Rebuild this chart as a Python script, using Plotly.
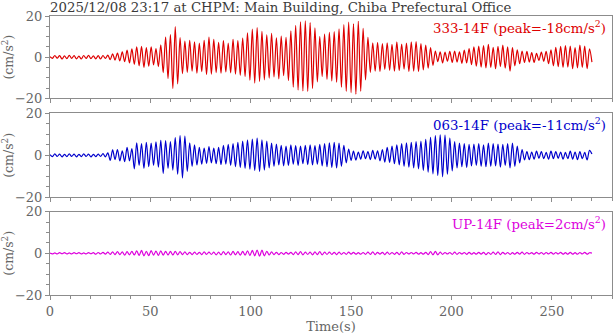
import numpy as np
import plotly.graph_objects as go
from plotly.subplots import make_subplots

# Acceleration records, sampled at the wave extrema every 1.2 s (cm/s^2)
dt = 1.2

ns_333 = [
    0.2, -0.6, 0.8, -0.5, 0.7, -0.9, 0.6, -0.7, 0.9, -0.6,
    0.7, -0.8, 0.5, -0.9, 0.8, -0.6, 0.9, -0.7, 0.6, -0.8,
    0.7, -0.9, 0.8, -0.6, 1.0, -1.2, 1.6, -1.4, 2.0, -1.8,
    2.6, -2.2, 3.4, -2.8, 4.0, -3.5, 5.0, -4.2, 5.2, -5.0,
    4.6, -4.4, 5.0, -3.8, 4.2, -4.6, 6.0, -7.5, 9.8, -10.4,
    11.0, -15.2, 14.8, -13.0, 9.5, -8.0, 7.8, -7.4, 8.2, -6.8,
    7.4, -7.8, 6.8, -7.0, 8.2, -8.4, 9.8, -8.2, 8.6, -7.5,
    7.2, -7.8, 8.0, -7.2, 6.8, -7.6, 8.6, -8.2, 8.0, -8.8,
    9.2, -9.4, 11.8, -11.2, 13.6, -12.6, 14.4, -11.8, 12.6, -11.0,
    10.8, -10.2, 11.6, -9.6, 9.4, -10.6, 10.2, -9.0, 9.6, -11.4,
    12.8, -14.6, 15.4, -16.0, 17.2, -16.4, 17.6, -16.6, 16.8, -15.2,
    14.2, -12.0, 10.0, -9.4, 11.2, -10.8, 12.0, -11.6, 12.4, -12.2,
    13.8, -14.6, 15.8, -16.6, 17.0, -17.2, 16.2, -18.0, 17.4, -16.6,
    14.0, -11.0, 9.6, -7.4, 7.0, -6.8, 7.2, -7.0, 6.6, -6.0,
    7.0, -6.4, 6.2, -6.8, 7.4, -6.6, 6.4, -5.8, 6.8, -7.0,
    7.4, -6.8, 7.6, -7.0, 6.6, -6.2, 5.8, -5.4, 4.6, -4.0,
    3.0, -2.2, 2.6, -2.8, 2.4, -2.0, 2.8, -2.6, 3.0, -2.4,
    2.6, -3.0, 3.4, -2.8, 4.2, -3.6, 5.0, -4.4, 5.4, -4.8,
    5.6, -5.2, 6.2, -5.0, 4.8, -5.6, 5.2, -4.6, 5.8, -5.4,
    5.0, -6.8, 4.6, -4.2, 3.6, -3.2, 3.0, -2.6, 2.8, -2.4,
    2.2, -2.6, 1.8, -1.6, 2.4, -2.0, 2.8, -3.2, 3.6, -4.2,
    4.8, -4.6, 5.2, -5.0, 5.6, -4.8, 5.4, -5.6, 4.6, -5.2,
    5.8, -5.0, 5.4, -5.6, 4.0, -2.4,
]

ew_063 = [
    0.3, -0.6, 0.7, -0.5, 0.6, -0.7, 0.5, -0.6, 0.7, -0.5,
    0.6, -0.7, 0.5, -0.6, 0.7, -0.5, 0.6, -0.7, 0.5, -0.6,
    0.6, -0.5, 0.8, -0.7, 1.2, -2.4, 2.6, -2.0, 2.8, -2.6,
    2.2, -3.0, 3.8, -2.6, 3.2, -6.4, 6.0, -4.8, 5.6, -6.2,
    6.2, -5.4, 5.8, -4.8, 6.4, -5.6, 7.2, -8.6, 7.0, -6.2,
    6.6, -7.0, 8.4, -9.0, 9.4, -10.8, 9.2, -7.6, 6.0, -5.2,
    5.0, -4.6, 3.8, -4.2, 3.4, -3.8, 4.2, -3.6, 3.4, -4.0,
    3.8, -4.4, 4.8, -4.2, 5.2, -4.8, 5.6, -5.4, 6.2, -5.8,
    6.8, -6.2, 7.4, -6.6, 7.8, -7.2, 8.2, -7.6, 7.4, -7.0,
    6.8, -6.0, 5.8, -5.2, 5.4, -4.6, 4.8, -5.0, 4.4, -4.8,
    5.0, -4.2, 4.6, -4.8, 4.4, -4.0, 4.8, -4.4, 5.0, -4.6,
    4.6, -4.2, 5.2, -5.0, 5.6, -5.4, 6.0, -5.8, 6.2, -6.0,
    5.8, -5.2, 4.8, -3.6, 3.0, -2.4, 2.0, -2.2, 1.6, -1.8,
    2.2, -1.6, 1.8, -2.0, 2.4, -1.8, 2.2, -2.6, 2.8, -3.2,
    3.8, -3.4, 4.4, -4.0, 5.0, -4.6, 5.6, -5.2, 6.0, -5.6,
    6.2, -6.0, 6.6, -6.4, 6.8, -7.2, 7.6, -8.0, 8.6, -8.8,
    9.4, -9.6, 9.8, -10.2, 9.6, -9.0, 8.2, -7.4, 6.6, -6.0,
    5.8, -5.4, 5.6, -5.8, 5.2, -5.0, 5.4, -4.8, 5.6, -5.2,
    5.0, -5.4, 5.8, -5.2, 5.6, -5.0, 5.4, -5.6, 5.2, -4.8,
    5.6, -6.0, 5.8, -5.2, 4.4, -3.6, 2.8, -2.2, 1.8, -2.0,
    1.6, -1.8, 2.0, -1.4, 1.8, -1.6, 1.4, -1.8, 2.0, -1.6,
    1.8, -1.4, 1.6, -1.8, 1.4, -1.6, 2.0, -1.8, 1.6, -2.0,
    1.8, -1.6, 1.4, -2.2, 2.4, 0.6,
]

ud_up = [
    0.1, -0.3, 0.2, -0.3, 0.3, -0.2, 0.3, -0.3, 0.2, -0.3,
    0.3, -0.2, 0.3, -0.3, 0.2, -0.3, 0.3, -0.2, 0.3, -0.4,
    0.4, -0.3, 0.5, -0.4, 0.6, -0.5, 0.7, -0.6, 0.8, -0.6,
    0.7, -0.9, 0.8, -0.7, 1.0, -0.8, 1.2, -1.0, 1.4, -1.2,
    1.0, -1.1, 1.3, -0.9, 1.1, -1.0, 1.2, -0.9, 1.0, -0.8,
    0.9, -0.8, 1.0, -0.7, 0.8, -0.6, 0.7, -0.6, 0.5, -0.6,
    0.6, -0.5, 0.5, -0.6, 0.7, -0.5, 0.6, -0.5, 0.6, -0.7,
    0.6, -0.7, 0.8, -0.6, 0.7, -0.8, 0.9, -0.7, 0.8, -0.9,
    1.0, -0.9, 1.2, -1.0, 1.4, -1.2, 1.6, -1.4, 1.5, -1.2,
    1.0, -0.8, 0.7, -0.6, 0.5, -0.6, 0.4, -0.5, 0.5, -0.4,
    0.5, -0.6, 0.7, -0.6, 0.8, -0.7, 0.6, -0.5, 0.6, -0.7,
    0.7, -0.6, 0.8, -0.7, 0.6, -0.5, 0.6, -0.5, 0.5, -0.6,
    0.6, -0.5, 0.4, -0.5, 0.6, -0.4, 0.5, -0.4, 0.3, -0.4,
    0.4, -0.5, 0.6, -0.5, 0.7, -0.6, 0.5, -0.4, 0.5, -0.6,
    0.6, -0.5, 0.4, -0.5, 0.5, -0.6, 0.7, -0.5, 0.4, -0.3,
    0.4, -0.3, 0.5, -0.4, 0.3, -0.4, 0.5, -0.6, 0.8, -0.7,
    0.9, -0.7, 0.6, -0.5, 0.4, -0.3, 0.4, -0.5, 0.6, -0.5,
    0.4, -0.3, 0.4, -0.5, 0.5, -0.4, 0.3, -0.4, 0.5, -0.4,
    0.5, -0.6, 0.4, -0.5, 0.6, -0.5, 0.7, -0.6, 0.5, -0.4,
    0.4, -0.5, 0.3, -0.4, 0.5, -0.4, 0.6, -0.5, 0.4, -0.3,
    0.3, -0.4, 0.5, -0.3, 0.4, -0.5, 0.4, -0.3, 0.5, -0.4,
    0.4, -0.3, 0.5, -0.4, 0.3, -0.4, 0.5, -0.4, 0.3, -0.4,
    0.4, -0.3, 0.5, -0.4, 0.3, 0.1,
]

channels = ["333-14F", "063-14F", "UP-14F"]
peaks = [-18, -11, 2]
colors = ["#dd0000", "#0000cc", "#dd00dd"]
series = [ns_333, ew_063, ud_up]

title_text = "2025/12/08 23:17 at CHPM: Main Building, Chiba Prefectural Office"
x_range = [0, 280]
y_range = [-20, 20]

FONT = "DejaVu Serif"
GRAY = "#666666"
AXIS = "#8c8c8c"

fig = make_subplots(rows=3, cols=1, shared_xaxes=False)

for i, (vals, col) in enumerate(zip(series, colors), start=1):
    t = np.arange(len(vals)) * dt
    fig.add_trace(
        go.Scatter(x=t, y=vals, mode="lines",
                   line=dict(color=col, width=1.2, shape="spline", smoothing=0.9),
                   showlegend=False, hoverinfo="skip"),
        row=i, col=1,
    )

domains = [[0.705, 1.0], [0.350, 0.651], [0.0, 0.2986]]

for i in range(1, 4):
    fig.update_xaxes(
        row=i, col=1, range=x_range, dtick=50, tick0=0,
        showticklabels=(i == 3),
        ticks="outside", ticklen=4, tickcolor=AXIS,
        minor=dict(dtick=10, ticks="outside", ticklen=3, tickcolor=AXIS),
        showline=True, linecolor=AXIS, linewidth=1, mirror=True,
        showgrid=False, zeroline=False,
        tickfont=dict(family=FONT, size=13, color=GRAY),
    )
    fig.update_yaxes(
        row=i, col=1, range=y_range, dtick=20, tick0=-20,
        domain=domains[i - 1],
        ticks="outside", ticklen=4, tickcolor=AXIS,
        minor=dict(dtick=5, ticks="outside", ticklen=3, tickcolor=AXIS),
        showline=True, linecolor=AXIS, linewidth=1, mirror=True,
        showgrid=False, zeroline=False,
        tickfont=dict(family=FONT, size=13, color=GRAY),
        title=dict(text="(cm/s<sup>2</sup>)", standoff=5,
                   font=dict(family=FONT, size=12.5, color=GRAY)),
    )

fig.update_xaxes(row=3, col=1,
                 title=dict(text="Time(s)", standoff=4,
                            font=dict(family=FONT, size=13, color=GRAY)))

for i, (name, pk, col) in enumerate(zip(channels, peaks, colors), start=1):
    sfx = "" if i == 1 else str(i)
    fig.add_annotation(
        text=f"{name} (peak={pk}cm/s<sup>2</sup>)",
        xref=f"x{sfx} domain", yref=f"y{sfx} domain",
        x=0.992, y=1.0, xanchor="right", yanchor="top", showarrow=False,
        font=dict(family=FONT, size=13.3, color=col),
    )

fig.update_layout(
    width=613, height=334,
    margin=dict(l=50, r=1, t=16, b=39),
    paper_bgcolor="white", plot_bgcolor="white",
    title=dict(text=title_text, x=0, xref="paper", xanchor="left",
               y=1 - 7 / 334, yref="container", yanchor="middle",
               font=dict(family=FONT, size=13.3, color="#3a3a3a")),
)

fig.write_html("out.html")
